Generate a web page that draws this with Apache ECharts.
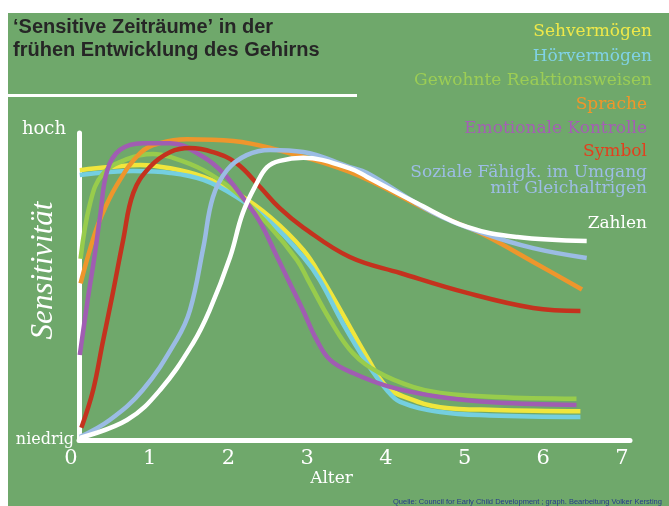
<!DOCTYPE html>
<html>
<head>
<meta charset="utf-8">
<script src="https://cdn.jsdelivr.net/npm/echarts@6/dist/echarts.min.js"></script>
<style>
  html, body { margin: 0; padding: 0; background: #fff; }
  #chart { width: 669px; height: 506px; }
</style>
</head>
<body>
<div id="chart"></div>
<script>
// curves: [age, sensitivity] (0 = niedrig, 10 = hoch)
const sehvermoegen = [[0.01, 8.79], [0.39, 8.89], [0.78, 8.96], [1.16, 8.85], [1.58, 8.57], [2.0, 8.05], [2.43, 7.26], [2.85, 6.19], [3.10, 5.21], [3.35, 4.1], [3.66, 2.7], [3.91, 1.73], [4.17, 1.37], [4.59, 1.07], [5.3, 0.98], [6.37, 0.94]];
const hoervermoegen = [[0.01, 8.63], [0.69, 8.76], [1.16, 8.7], [1.58, 8.47], [2.0, 7.92], [2.43, 7.1], [2.85, 5.96], [3.06, 5.21], [3.35, 3.81], [3.66, 2.5], [3.91, 1.63], [4.08, 1.24], [4.59, 0.91], [5.22, 0.8], [6.37, 0.75]];
const gewohnte = [[0.02, 5.9], [0.14, 7.7], [0.30, 8.66], [0.61, 9.15], [0.94, 9.32], [1.16, 9.22], [1.58, 8.79], [2.0, 8.05], [2.43, 6.94], [2.77, 5.86], [2.91, 5.21], [3.19, 3.91], [3.48, 2.83], [3.82, 2.18], [4.24, 1.73], [4.59, 1.53], [5.3, 1.4], [6.32, 1.34]];
const sprache = [[0.02, 5.1], [0.15, 6.3], [0.27, 7.2], [0.48, 8.3], [0.78, 9.35], [1.03, 9.67], [1.37, 9.8], [1.96, 9.74], [2.43, 9.51], [3.44, 8.73], [4.5, 7.4], [5.13, 6.7], [5.77, 5.8], [6.39, 4.9]];
const emotionale = [[0.01, 2.77], [0.11, 4.56], [0.20, 6.03], [0.27, 7.33], [0.36, 8.79], [0.52, 9.45], [0.81, 9.67], [1.16, 9.67], [1.58, 9.22], [1.83, 8.7], [2.08, 7.9], [2.3, 7.1], [2.51, 6.0], [2.68, 5.1], [2.85, 4.2], [3.02, 3.26], [3.19, 2.61], [3.48, 2.18], [3.95, 1.73], [4.59, 1.40], [5.3, 1.22], [6.32, 1.14]];
const symbol = [[0.03, 0.4], [0.18, 1.63], [0.30, 3.16], [0.43, 4.79], [0.56, 6.5], [0.69, 8.05], [0.90, 8.89], [1.16, 9.38], [1.41, 9.51], [1.70, 9.38], [2.0, 9.02], [2.30, 8.24], [2.55, 7.55], [2.85, 6.92], [3.44, 5.96], [4.08, 5.44], [4.93, 4.79], [5.77, 4.30], [6.37, 4.20]];
const soziale = [[0.01, 0.1], [0.39, 0.65], [0.81, 1.63], [1.24, 3.26], [1.41, 4.23], [1.58, 6.28], [1.70, 7.9], [1.88, 8.79], [2.13, 9.28], [2.43, 9.45], [2.85, 9.38], [3.44, 8.89], [3.66, 8.7], [4.5, 7.4], [5.13, 6.74], [5.77, 6.25], [6.45, 5.93]];
const zahlen = [[0.01, 0.07], [0.61, 0.65], [1.03, 1.63], [1.45, 3.16], [1.66, 4.23], [1.92, 5.96], [2.08, 7.39], [2.26, 8.37], [2.39, 8.89], [2.55, 9.09], [2.85, 9.19], [3.44, 8.85], [3.66, 8.57], [4.29, 7.72], [4.93, 6.94], [5.57, 6.61], [6.45, 6.48]];

const seriesNames = ["Sehvermögen", "Hörvermögen", "Gewohnte Reaktionsweisen", "Sprache", "Emotionale Kontrolle", "Symbol", "Soziale Fähigk. im Umgang\nmit Gleichaltrigen", "Zahlen"];
const seriesData = [sehvermoegen, hoervermoegen, gewohnte, sprache, emotionale, symbol, soziale, zahlen];
const lineColors = ["#f0e63c", "#74cfe0", "#98cc4c", "#ee962c", "#a05db2", "#c4321e", "#9bbce4", "#ffffff"];
const labelColors = ["#eee84a", "#80d2e6", "#9ccd55", "#f0962a", "#a45fb4", "#e2401e", "#9dbde6", "#ffffff"];

const yTickLabels = { 0: "niedrig", 10: "hoch" };
const title = "‘Sensitive Zeiträume’ in der\nfrühen Entwicklung des Gehirns";
const source = "Quelle: Council for Early Child Development ; graph. Bearbeitung Volker Kersting";

const serif = "'DejaVu Serif', serif";
const green = "#6fa86b";

// right-hand labels: top offsets of each name (the two-line one sits tighter, "Zahlen" further down)
const labelTops = [24, 49, 73, 97, 121, 144, 165, 216];
const labelRight = [652, 652, 652, 647, 647, 647, 647, 647];

const chart = echarts.init(document.getElementById("chart"));

const option = {
  backgroundColor: "#ffffff",
  animation: false,
  grid: { left: 79, right: 39, top: 133, bottom: 66, outerBoundsMode: "none" },
  xAxis: {
    type: "value",
    min: 0,
    max: 7,
    interval: 1,
    axisLine: { lineStyle: { color: "#fff", width: 5 } },
    axisTick: { show: false },
    splitLine: { show: false },
    axisLabel: {
      color: "#fff",
      fontFamily: serif,
      fontSize: 21,
      margin: 8,
      padding: [0, 16, 0, 0],
    },
    name: "Alter",
    nameLocation: "middle",
    nameGap: 30,
    nameMoveOverlap: false,
    nameTextStyle: { color: "#fff", fontFamily: serif, fontSize: 17, padding: [0, 46, 0, 0] },
  },
  yAxis: {
    type: "value",
    min: 0,
    max: 10,
    interval: 10,
    axisLine: { show: true, lineStyle: { color: "#fff", width: 5 } },
    axisTick: { show: false },
    splitLine: { show: false },
    axisLabel: {
      color: "#fff",
      fontFamily: serif,
      fontSize: 16,
      margin: 5,
      formatter: (v) => (v === 10 ? "{h|" + yTickLabels[v] + "}" : yTickLabels[v]),
      rich: { h: { color: "#fff", fontFamily: serif, fontSize: 18, padding: [0, 8, 8, 0] } },
    },
    name: "Sensitivität",
    nameLocation: "middle",
    nameRotate: 90,
    nameGap: 20,
    nameMoveOverlap: false,
    nameTextStyle: {
      color: "#fff",
      fontFamily: "'Liberation Serif', serif",
      fontStyle: "italic",
      fontSize: 31,
      padding: [0, 0, 0, 32],
    },
  },
  series: seriesData.map((d, i) => ({
    name: seriesNames[i],
    type: "line",
    data: d,
    smooth: 0.4,
    showSymbol: false,
    lineStyle: { color: lineColors[i], width: 4.5 },
    z: i === 7 ? 4 : 3,
  })),
  graphic: [
    { type: "rect", z: -10, silent: true, shape: { x: 8, y: 13, width: 661, height: 493 }, style: { fill: green } },
    {
      type: "text", left: 13, top: 16, z: 5,
      style: { text: title, fill: "#262626", font: "bold 20px 'Liberation Sans', Arial, sans-serif", lineHeight: 23 },
    },
    { type: "rect", z: 5, shape: { x: 8, y: 94, width: 349, height: 3 }, style: { fill: "#fff" } },
    ...seriesNames.map((n, i) => ({
      type: "text", z: 5,
      x: labelRight[i], y: labelTops[i],
      style: {
        text: n, fill: labelColors[i], font: "17px " + serif,
        textAlign: "right", textVerticalAlign: "top", lineHeight: 16,
      },
    })),
    {
      type: "text", z: 5, x: 393, y: 498,
      style: { text: source, fill: "#24398a", font: "7.5px 'Liberation Sans', Arial, sans-serif" },
    },
  ],
};

chart.setOption(option);
</script>
</body>
</html>
